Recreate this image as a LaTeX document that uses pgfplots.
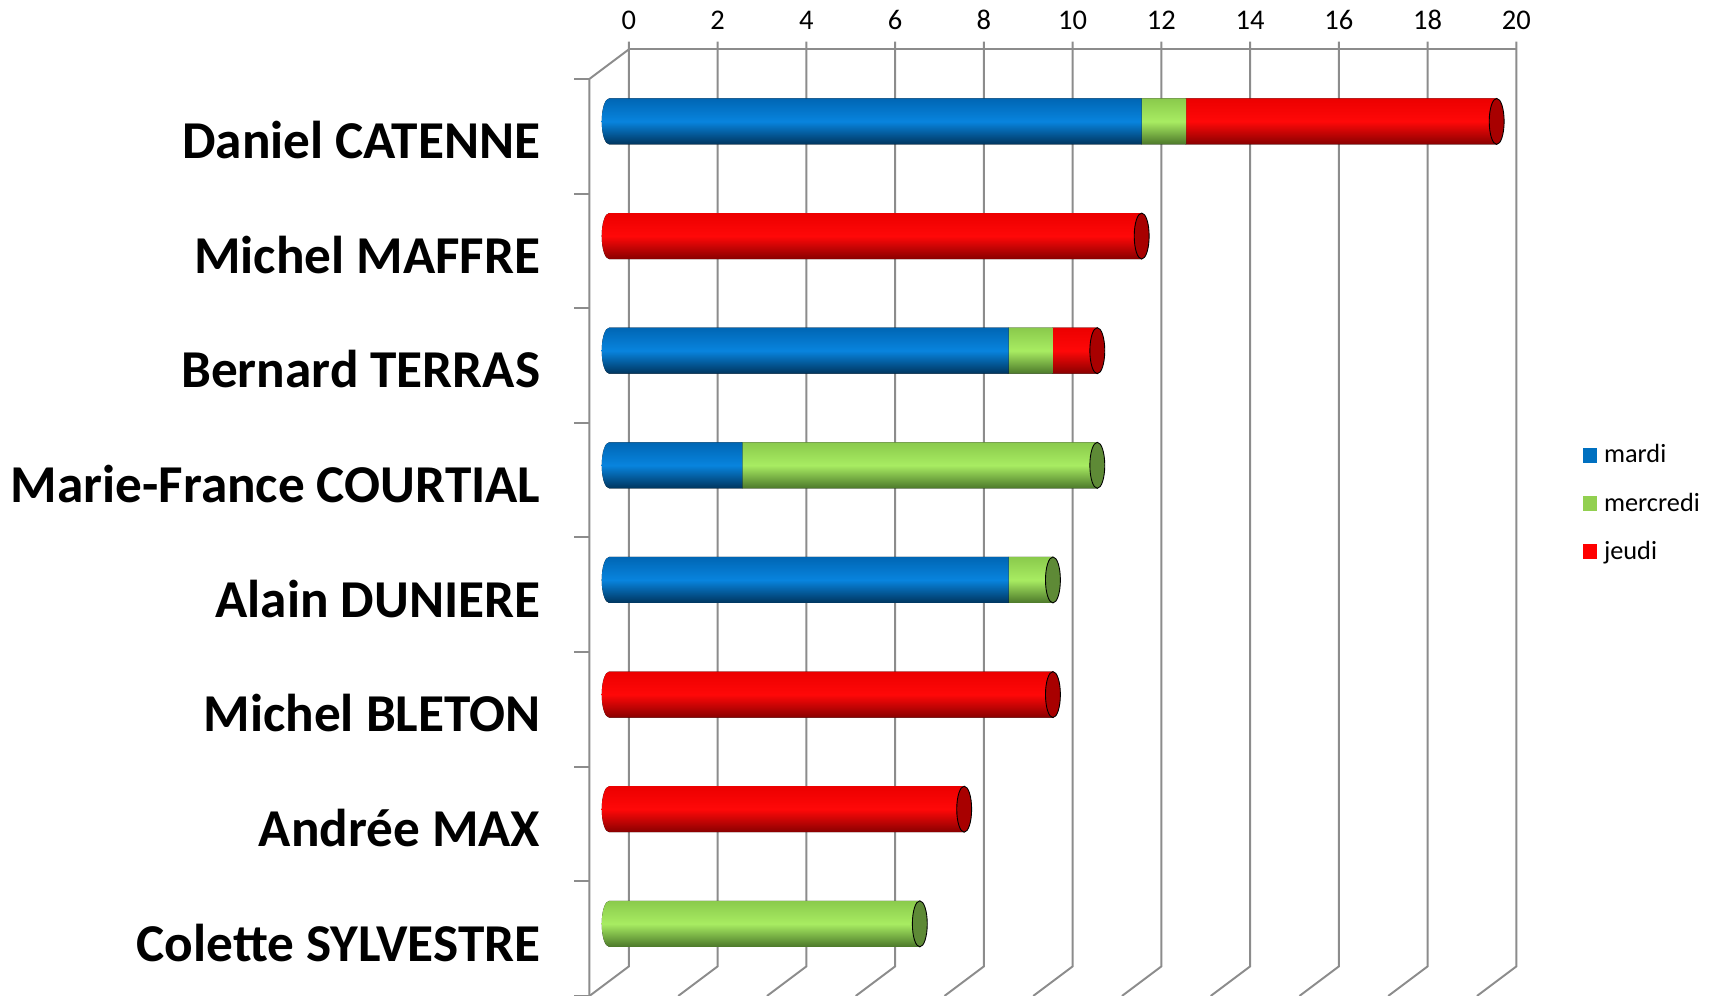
\documentclass[border=0pt]{standalone}
\usepackage{fontspec}
\setmainfont{Carlito}
\usepackage{pgfplots}
\pgfplotsset{compat=1.18}
\definecolor{bluemid}{HTML}{0884DE}
\definecolor{bluetop}{HTML}{0066B4}
\definecolor{bluebot}{HTML}{00355E}
\definecolor{greenmid}{HTML}{A8EC62}
\definecolor{greentop}{HTML}{8ACA4C}
\definecolor{greenbot}{HTML}{4C782A}
\definecolor{redmid}{HTML}{FF0808}
\definecolor{redtop}{HTML}{EC0000}
\definecolor{redbot}{HTML}{880000}
\definecolor{redcap}{HTML}{A80000}
\definecolor{greencap}{HTML}{5E8A36}
\definecolor{legblue}{HTML}{0070C0}
\definecolor{leggreen}{HTML}{92D050}
\definecolor{legred}{HTML}{FF0000}
\definecolor{gridgray}{HTML}{8C8C8C}

\pgfdeclareplotmark{blank}{}

% one cylinder segment, drawn at the stacked end of the segment
\newcommand{\segdraw}[3]{%
  \pgfmathsetmacro\seglenpt{\seglen*20.25}%
  \ifdim\seglenpt pt>0pt
    \fill[top color=#1, bottom color=#3, middle color=#2]
      (0pt,10.5pt) -- (-\seglenpt pt,10.5pt)
      arc[start angle=90, end angle=270, x radius=3.4pt, y radius=10.5pt]
      -- (0pt,-10.5pt) -- cycle;
  \fi}

\pgfplotstableread{
y mardi mercredi jeudi
8 12 1 7
7 0 0 12
6 9 1 1
5 3 8 0
4 9 1 0
3 0 0 10
2 0 0 8
1 0 7 0
}\datatable

\begin{document}
\begin{tikzpicture}
% ---- 3D frame (back wall, side, front) ----
\begin{scope}[gridgray, line width=0.9pt]
  \draw (9pt,6.75pt) -- (414pt,6.75pt);
  \foreach \i in {0,...,10} {
    \draw (9pt+\i*40.5pt,10.25pt) -- (9pt+\i*40.5pt,-411.75pt) -- (-9pt+\i*40.5pt,-425.25pt);
  }
  \draw (9pt,6.75pt) -- (-9pt,-6.75pt) -- (-9pt,-425.25pt);
  \foreach \k in {0,...,8} {
    \draw (-16pt,-6.75pt-\k*52.3125pt) -- (-9pt,-6.75pt-\k*52.3125pt);
  }
\end{scope}

\begin{axis}[
  at={(0pt,0pt)}, anchor=north west,
  scale only axis, width=405pt, height=418.5pt,
  xmin=0, xmax=20, ymin=0.5, ymax=8.5,
  xbar stacked, bar width=21pt,
  clip=false,
  axis line style={draw=none},
  major tick length=0pt,
  xtick={0,2,...,20},
  xticklabel pos=upper,
  xticklabel style={anchor=base, inner sep=0pt, xshift=9pt, yshift=15.75pt,
    font=\fontsize{13}{15}\selectfont},
  /pgf/number format/assume math mode=true,
  ytick={1,...,8},
  yticklabels={Colette SYLVESTRE, Andrée MAX, Michel BLETON, Alain DUNIERE,
    Marie-France COURTIAL, Bernard TERRAS, Michel MAFFRE, Daniel CATENNE},
  yticklabel style={anchor=base east, inner sep=0pt, xshift=-31.2pt, yshift=-17pt,
    font=\fontsize{24.3}{28}\bfseries\selectfont},
  legend style={draw=none, fill=none, inner sep=0pt,
    at={(axis description cs:1.0963,0.5207)}, anchor=west,
    font=\fontsize{12}{14}\selectfont, row sep=15.2pt,
    nodes={inner sep=0pt, text height=6.8pt, text depth=0pt},
    /tikz/every odd column/.append style={column sep=3pt}},
  legend cell align=left,
  every axis plot/.append style={draw=none, fill=none, scatter, mark=blank,
    scatter/@post marker code/.code={}},
]
\addlegendimage{legend image code/.code={\fill[legblue] (0pt,-3.4pt) rectangle (6.8pt,3.4pt);}}
\addlegendentry{mardi}
\addlegendimage{legend image code/.code={\fill[leggreen] (0pt,-3.4pt) rectangle (6.8pt,3.4pt);}}
\addlegendentry{mercredi}
\addlegendimage{legend image code/.code={\fill[legred] (0pt,-3.4pt) rectangle (6.8pt,3.4pt);}}
\addlegendentry{jeudi}

\addplot[visualization depends on={\thisrow{mardi} \as \seglen},
  scatter/@pre marker code/.code={\segdraw{bluetop}{bluemid}{bluebot}}]
  table[x=mardi, y=y] {\datatable};
\addplot[visualization depends on={\thisrow{mercredi} \as \seglen},
  scatter/@pre marker code/.code={\segdraw{greentop}{greenmid}{greenbot}}]
  table[x=mercredi, y=y] {\datatable};
\addplot[visualization depends on={\thisrow{jeudi} \as \seglen},
  scatter/@pre marker code/.code={\segdraw{redtop}{redmid}{redbot}}]
  table[x=jeudi, y=y] {\datatable};
\end{axis}

% ---- right end caps of the cylinders ----
\begin{axis}[
  at={(0pt,0pt)}, anchor=north west,
  scale only axis, width=405pt, height=418.5pt,
  xmin=0, xmax=20, ymin=0.5, ymax=8.5,
  hide axis, clip=false,
]
\addplot[only marks, mark=*, mark size=10.5pt, mark options={xscale=0.324, draw=none, fill=redcap}]
  coordinates {(20,8) (12,7) (11,6) (10,3) (8,2)};
\addplot[only marks, mark=*, mark size=10.5pt, mark options={xscale=0.324, draw=none, fill=greencap}]
  coordinates {(11,5) (10,4) (7,1)};
\end{axis}

\pgfresetboundingbox
\path[use as bounding box] (-278pt,29.25pt) rectangle (506pt,-425.25pt);
\end{tikzpicture}
\end{document}
